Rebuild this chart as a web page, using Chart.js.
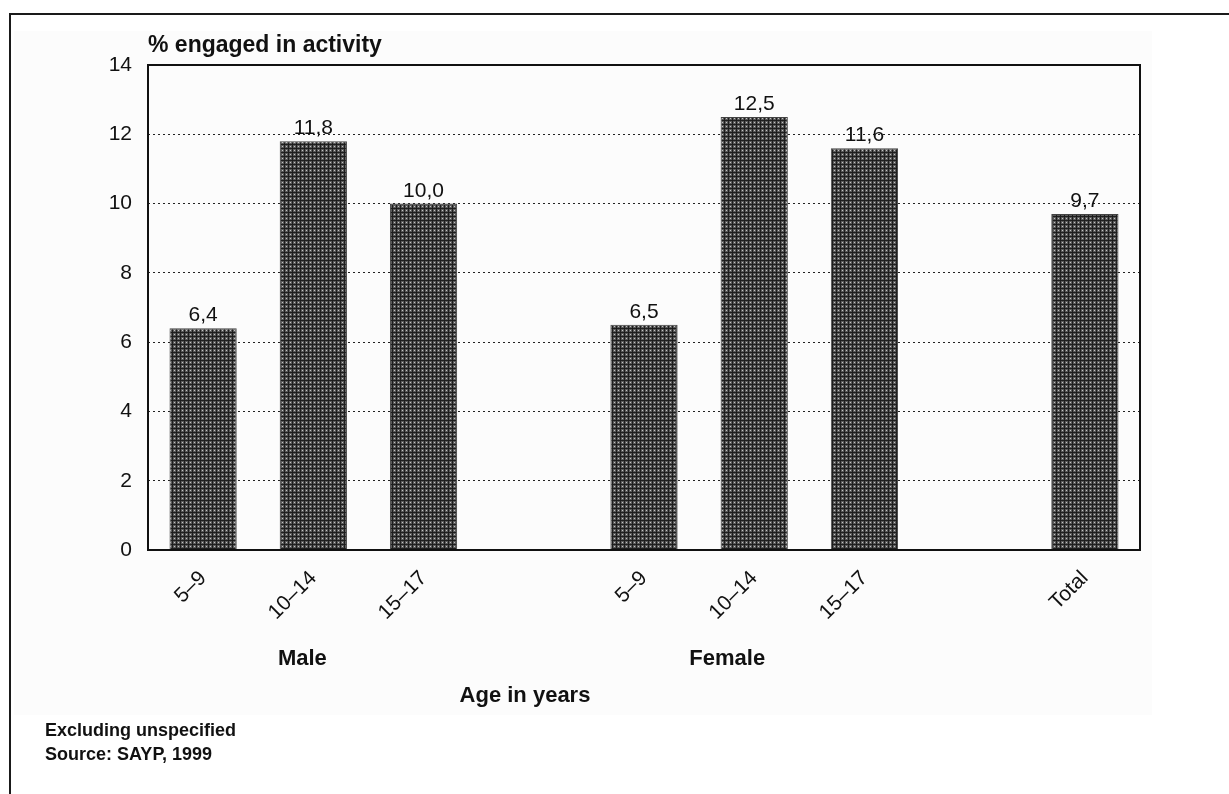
<!DOCTYPE html>
<html>
<head>
<meta charset="utf-8">
<script src="https://cdn.jsdelivr.net/npm/chart.js@4.4.1/dist/chart.umd.min.js"></script>
<style>
  html, body { margin: 0; padding: 0; background: #ffffff; }
  #wrap { position: relative; width: 1229px; height: 794px; }
</style>
</head>
<body>
<div id="wrap"><canvas id="c" width="1229" height="794"></canvas></div>
<script>
// ---- data ----
const categories = ['5–9', '10–14', '15–17', '', '5–9', '10–14', '15–17', '', 'Total'];
const percentEngaged = [6.4, 11.8, 10.0, null, 6.5, 12.5, 11.6, null, 9.7];
const yTicks = [0, 2, 4, 6, 8, 10, 12, 14];
const groupLabels = ['Male', 'Female'];
const groupIndex = [1, 5];
const yTitle = '% engaged in activity';
const xTitle = 'Age in years';
const footnotes = ['Excluding unspecified', 'Source: SAYP, 1999'];

const FONT = '"Liberation Sans", Arial, Helvetica, sans-serif';

// hatched texture for bars
function makePattern() {
  const c = document.createElement('canvas');
  c.width = 4; c.height = 4;
  const g = c.getContext('2d');
  g.fillStyle = '#5a5a5a'; g.fillRect(0, 0, 4, 4);
  g.fillStyle = '#1e1e1e'; g.fillRect(0, 0, 4, 1); g.fillRect(0, 0, 1, 4);
  g.fillStyle = '#c4c4c4'; g.fillRect(2, 2, 1, 1);
  return g.createPattern(c, 'repeat');
}

const decorPlugin = {
  id: 'decor',
  beforeDraw(chart) {
    const ctx = chart.ctx;
    ctx.save();
    ctx.fillStyle = '#ffffff';
    ctx.fillRect(0, 0, chart.width, chart.height);
    ctx.fillStyle = '#fcfcfc';
    ctx.fillRect(14, 31, 1138, 684);
    ctx.strokeStyle = '#1a1a1a';
    ctx.lineWidth = 2;
    ctx.beginPath();
    ctx.moveTo(10, 794); ctx.lineTo(10, 14); ctx.lineTo(1229, 14);
    ctx.stroke();
    ctx.restore();
  },
  afterDatasetsDraw(chart) {
    const ctx = chart.ctx;
    const a = chart.chartArea;
    ctx.save();
    // frame
    ctx.strokeStyle = '#111';
    ctx.lineWidth = 2;
    ctx.strokeRect(a.left, a.top, a.right - a.left, a.bottom - a.top);
    // value labels
    ctx.fillStyle = '#111';
    ctx.font = '21px ' + FONT;
    ctx.textAlign = 'center';
    ctx.textBaseline = 'alphabetic';
    const meta = chart.getDatasetMeta(0);
    meta.data.forEach((bar, i) => {
      const v = percentEngaged[i];
      if (v == null) return;
      ctx.fillText(v.toFixed(1).replace('.', ','), bar.x, bar.y - 7);
    });
    // titles
    ctx.font = 'bold 23px ' + FONT;
    ctx.textAlign = 'left';
    ctx.fillText(yTitle, a.left, 52);
    const xs = chart.scales.x;
    ctx.textAlign = 'center';
    ctx.font = 'bold 22px ' + FONT;
    ctx.fillText(groupLabels[0], xs.getPixelForValue(groupIndex[0]) - 11, 665);
    ctx.fillText(groupLabels[1], xs.getPixelForValue(groupIndex[1]) - 27, 665);
    ctx.fillText(xTitle, 525, 702);
    ctx.textAlign = 'left';
    ctx.font = 'bold 18px ' + FONT;
    ctx.fillText(footnotes[0], 45, 736);
    ctx.fillText(footnotes[1], 45, 760);
    ctx.restore();
  }
};

new Chart(document.getElementById('c'), {
  type: 'bar',
  data: {
    labels: categories,
    datasets: [{
      data: percentEngaged,
      backgroundColor: makePattern(),
      borderColor: '#444',
      borderWidth: 1,
      categoryPercentage: 1.0,
      barPercentage: 0.61
    }]
  },
  options: {
    responsive: false,
    animation: false,
    layout: { padding: { left: 10, top: 65, right: 89, bottom: 0 } },
    plugins: { legend: { display: false }, tooltip: { enabled: false }, title: { display: false } },
    scales: {
      x: {
        grid: { display: false, drawTicks: false },
        border: { display: false },
        ticks: {
          color: '#111',
          font: { family: FONT, size: 21 },
          minRotation: 45, maxRotation: 45,
          padding: 16,
          autoSkip: false
        },
        afterFit(s) { s.height = 244; }
      },
      y: {
        min: 0, max: 14,
        afterBuildTicks(s) { s.ticks = yTicks.map(v => ({ value: v })); },
        grid: {
          drawTicks: false,
          color: (c) => (c.tick && (c.tick.value === 0 || c.tick.value === 14)) ? 'rgba(0,0,0,0)' : '#222',
          lineWidth: 1
        },
        border: { display: false, dash: [2, 3] },
        ticks: {
          color: '#111',
          font: { family: FONT, size: 21 },
          padding: 16
        },
        afterFit(s) { s.width = 138; }
      }
    }
  },
  plugins: [decorPlugin]
});
</script>
</body>
</html>
